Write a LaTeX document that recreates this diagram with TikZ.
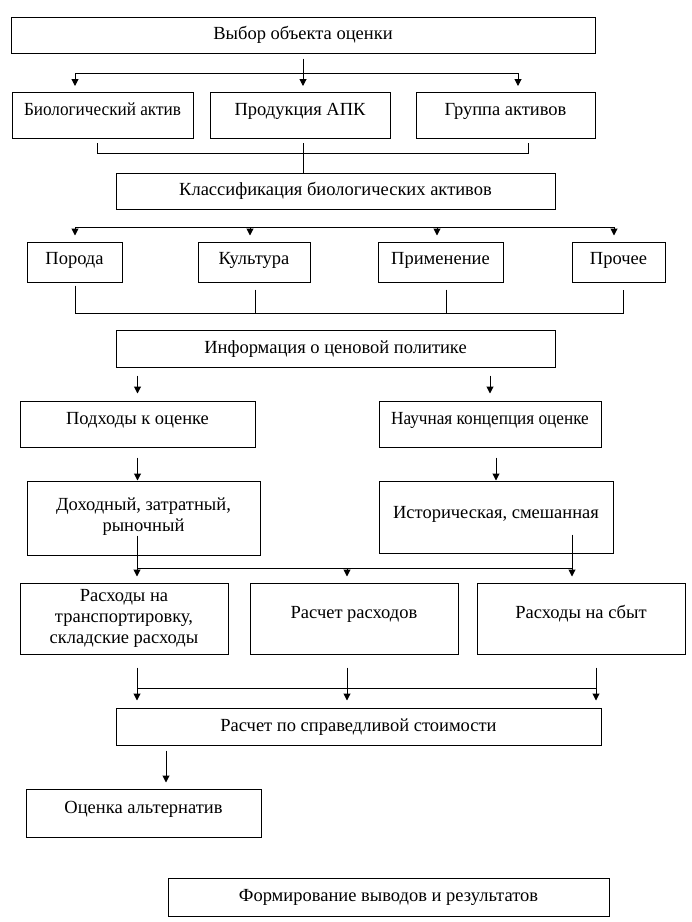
\documentclass[tikz,border=0pt]{standalone}
\usepackage{fontspec}
\setmainfont{Liberation Serif}
\usetikzlibrary{arrows.meta}
\tikzset{
  box/.style={draw, line width=1pt, inner sep=0pt, align=center,
    font=\fontsize{18.5}{21}\selectfont, text height=13pt, text depth=4pt},
  multibox/.style={draw, line width=1pt, inner sep=0pt, align=center,
    font=\fontsize{18.5}{21}\selectfont},
  narrow/.style={font=\fontsize{18.5}{21}\selectfont\addfontfeatures{FakeStretch=0.93}},
  up/.style={text depth=#1},
  ln/.style={line width=1pt},
  arr/.style={line width=1pt, -{Triangle[length=7pt,width=7pt]}}
}
\begin{document}
\begin{tikzpicture}[x=1pt,y=-1pt]
\useasboundingbox[fill=white] (0,0) rectangle (692,922);
% boxes
\node[box, minimum width=584, minimum height=36] (A) at (303,35) {Выбор объекта оценки};
\node[box, narrow, up=13pt, minimum width=181, minimum height=46] (B1) at (102.5,115.5) {Биологический актив};
\node[box, up=13pt, minimum width=180, minimum height=46] (B2) at (300,115.5) {Продукция АПК};
\node[box, up=13pt, minimum width=179, minimum height=46] (B3) at (505.5,115.5) {Группа активов};
\node[box, minimum width=439, minimum height=36] (C) at (335.5,191) {Классификация биологических активов};
\node[box, up=8pt, minimum width=95, minimum height=40] (D1) at (74.5,262) {Порода};
\node[box, up=8pt, minimum width=112, minimum height=40] (D2) at (254,262) {Культура};
\node[box, up=8pt, minimum width=125, minimum height=40] (D3) at (440.5,262) {Применение};
\node[box, up=8pt, minimum width=93, minimum height=40] (D4) at (618.5,262) {Прочее};
\node[box, minimum width=439, minimum height=37] (E) at (335.5,348.5) {Информация о ценовой политике};
\node[box, up=13pt, minimum width=235, minimum height=46] (F1) at (137.5,424) {Подходы к оценке};
\node[box, narrow, up=13pt, minimum width=222, minimum height=46] (F2) at (490,424) {Научная концепция оценке};
\node[multibox, minimum width=233, minimum height=74] (G1) at (143.5,518) {Доходный, затратный,\\рыночный\\[-21pt]\strut};
\node[box, up=11pt, minimum width=234, minimum height=72] (G2) at (496,517) {Историческая, смешанная};
\node[multibox, minimum width=208, minimum height=71] (H1) at (124,618.5) {Расходы на\\транспортировку,\\складские расходы};
\node[box, up=13pt, minimum width=208, minimum height=71] (H2) at (354,618.5) {Расчет расходов};
\node[box, up=13pt, minimum width=208, minimum height=71] (H3) at (581,618.5) {Расходы на сбыт};
\node[box, minimum width=485, minimum height=37] (I) at (358.5,726.5) {Расчет по справедливой стоимости};
\node[box, up=13pt, minimum width=235, minimum height=48] (J) at (143.5,813) {Оценка альтернатив};
\node[box, minimum width=441, minimum height=38] (K) at (388.5,897) {Формирование выводов и результатов};

% A -> B
\coordinate (j1L) at (75,73);
\coordinate (j1R) at (518,73);
\draw[ln] (j1L) -- (j1R);
\draw[arr] ([yshift=-5pt]A.south) -- ([yshift=6pt]A.south |- B2.north);
\draw[arr] (j1L) -- ([yshift=6pt]j1L |- B1.north);
\draw[arr] (j1R) -- ([yshift=6pt]j1R |- B3.north);

% B bracket -> C
\coordinate (k1L) at (97,153);
\coordinate (k1R) at (528,153);
\draw[ln] ([yshift=-4pt]k1L |- B1.south) -- (k1L) -- (k1R) -- ([yshift=-4pt]k1R |- B3.south);
\draw[ln] ([yshift=-4pt]B2.south -| A.south) -- (C.north -| A.south);

% C -> D
\coordinate (j2L) at (75,227);
\coordinate (j2a) at (250,227);
\coordinate (j2b) at (437,227);
\coordinate (j2R) at (614,227);
\draw[ln] (j2L) -- (j2R);
\draw[arr] (j2L) -- ([yshift=6pt]j2L |- D1.north);
\draw[arr] (j2a) -- ([yshift=6pt]j2a |- D2.north);
\draw[arr] (j2b) -- ([yshift=6pt]j2b |- D3.north);
\draw[arr] (j2R) -- ([yshift=6pt]j2R |- D4.north);

% D bracket
\coordinate (k2L) at (75,313);
\coordinate (k2a) at (255,313);
\coordinate (k2b) at (446,313);
\coordinate (k2R) at (623,313);
\draw[ln] ([yshift=-3pt]k2L |- D1.south) -- (k2L) -- (k2R) -- ([yshift=-7pt]k2R |- D4.south);
\draw[ln] ([yshift=-7pt]k2a |- D2.south) -- (k2a);
\draw[ln] ([yshift=-7pt]k2b |- D3.south) -- (k2b);

% E -> F
\draw[arr] ([yshift=-8pt]E.south -| F1.north) -- ([yshift=7pt]F1.north);
\draw[arr] ([yshift=-8pt]E.south -| F2.north) -- ([yshift=7pt]F2.north);

% F -> G
\draw[arr] ([yshift=-10pt]F1.south) -- (G1.north -| F1.south);
\draw[arr] ([yshift=-10pt]F2.south -| G2.north) -- (G2.north);

% G -> H
\coordinate (cl) at (137,568);
\coordinate (cm) at (347,568);
\coordinate (cr) at (572,568);
\draw[ln] (cl) -- (cr);
\draw[arr] ([yshift=20pt]G1.south -| cl) -- ([yshift=6pt]H1.north -| cl);
\draw[arr] ([yshift=19pt]G2.south -| cr) -- ([yshift=6pt]H3.north -| cr);
\draw[arr] (cm) -- ([yshift=6pt]H2.north -| cm);

% H -> I
\coordinate (dl) at (137,688);
\coordinate (dm) at (347,688);
\coordinate (dr) at (596,688);
\draw[ln] (dl) -- (dr);
\draw[arr] ([yshift=-13pt]H1.south -| dl) -- ([yshift=7pt]I.north -| dl);
\draw[arr] ([yshift=-13pt]H2.south -| dm) -- ([yshift=7pt]I.north -| dm);
\draw[arr] ([yshift=-13pt]H3.south -| dr) -- ([yshift=7pt]I.north -| dr);

% I -> J
\coordinate (jx) at (166,760);
\draw[arr] ([yshift=-5pt]I.south -| jx) -- ([yshift=6pt]J.north -| jx);
\end{tikzpicture}
\end{document}
